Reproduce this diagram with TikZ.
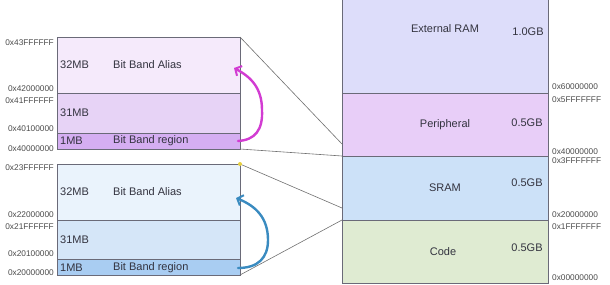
\documentclass[tikz,border=0pt]{standalone}
\usepackage{fontspec}
\setmainfont{Liberation Sans}
\usetikzlibrary{arrows.meta}
\definecolor{bordc}{HTML}{6A6A78}
\definecolor{txtc}{HTML}{33333F}
\definecolor{addrc}{HTML}{4A4A4A}
\definecolor{pA}{HTML}{F5EAFB}
\definecolor{pB}{HTML}{E7D3F6}
\definecolor{pC}{HTML}{D5AEF2}
\definecolor{bA}{HTML}{EAF3FC}
\definecolor{bB}{HTML}{D5E6F8}
\definecolor{bC}{HTML}{A9CDF2}
\definecolor{extc}{HTML}{DDDDFA}
\definecolor{perc}{HTML}{E8CEF8}
\definecolor{sramc}{HTML}{CCE1F8}
\definecolor{codec}{HTML}{DFEBD2}
\definecolor{magc}{HTML}{D23CD2}
\definecolor{bluec}{HTML}{3A8BC0}
\definecolor{yelc}{HTML}{E8D040}
\definecolor{linec}{HTML}{707070}
\tikzset{
  blk/.style={draw=bordc, line width=0.7pt, inner sep=0pt, outer sep=0pt, anchor=north west},
  lbl/.style={font=\fontsize{11}{13}\selectfont, text=txtc, inner sep=0pt},
  addr/.style={font=\fontsize{8.3}{10}\selectfont, text=addrc, inner sep=0pt},
  conn/.style={draw=linec, line width=0.6pt},
  hand/.style={line width=2.4pt, line cap=round, -{Straight Barb[length=5pt,width=11pt,line width=2pt]}}
}
\begin{document}
\begin{tikzpicture}[x=1pt,y=-1pt]
\useasboundingbox (0,0) rectangle (610,284);
% right memory map
\node[blk, fill=extc, minimum width=206pt, minimum height=97pt] (ext) at (342,-4) {};
\node[blk, fill=perc, minimum width=206pt, minimum height=63pt] (per) at (342,93) {};
\node[blk, fill=sramc, minimum width=206pt, minimum height=64pt] (sram) at (342,156) {};
\node[blk, fill=codec, minimum width=206pt, minimum height=63pt] (code) at (342,220) {};
% upper bit band block
\node[blk, fill=pA, minimum width=183pt, minimum height=56pt] (ua) at (57,37) {};
\node[blk, fill=pB, minimum width=183pt, minimum height=40pt] (ub) at (57,93) {};
\node[blk, fill=pC, minimum width=183pt, minimum height=16pt] (uc) at (57,133) {};
% lower bit band block
\node[blk, fill=bA, minimum width=183pt, minimum height=56pt] (la) at (57,164) {};
\node[blk, fill=bB, minimum width=183pt, minimum height=39pt] (lb) at (57,220) {};
\node[blk, fill=bC, minimum width=183pt, minimum height=16pt] (lc) at (57,259) {};
% connector end points
\coordinate (p1) at (342,144);
\coordinate (s1) at (342,208);
\draw[conn] (ua.north east) -- (p1);
\draw[conn] (uc.south east) -- (per.south west);
\draw[conn] (la.north east) -- (s1);
\draw[conn] (lc.south east) -- (sram.south west);
% yellow dot
\fill[yelc] (la.north east) circle (2pt);
% block labels upper
\node[lbl, anchor=west] (t1) at (60,65) {32MB};
\node[lbl, anchor=west] (t2) at (113,65) {Bit Band Alias};
\node[lbl, anchor=west] (t3) at (60,113) {31MB};
\node[lbl, anchor=west] (t4) at (60,140.5) {1MB};
\node[lbl, anchor=west] (t5) at (113,140.5) {Bit Band region};
% block labels lower
\node[lbl, anchor=west] (t6) at (60,192) {32MB};
\node[lbl, anchor=west] (t7) at (113,192) {Bit Band Alias};
\node[lbl, anchor=west] (t8) at (60,240) {31MB};
\node[lbl, anchor=west] (t9) at (60,267.5) {1MB};
\node[lbl, anchor=west] (t10) at (113,267.5) {Bit Band region};
% right labels
\node[lbl] (r1) at (445,29) {External RAM};
\node[lbl] (r2) at (528,32) {1.0GB};
\node[lbl] (r3) at (445,125) {Peripheral};
\node[lbl] (r4) at (527,123) {0.5GB};
\node[lbl] (r5) at (445,188) {SRAM};
\node[lbl] (r6) at (527,183) {0.5GB};
\node[lbl] (r7) at (443,252) {Code};
\node[lbl] (r8) at (527,248) {0.5GB};
% left addresses
\node[addr, anchor=east] (a1) at (54,43) {0x43FFFFFF};
\node[addr, anchor=east] (a2) at (54,89) {0x42000000};
\node[addr, anchor=east] (a3) at (54,101) {0x41FFFFFF};
\node[addr, anchor=east] (a4) at (54,129) {0x40100000};
\node[addr, anchor=east] (a5) at (54,149) {0x40000000};
\node[addr, anchor=east] (a6) at (54,168) {0x23FFFFFF};
\node[addr, anchor=east] (a7) at (54,215) {0x22000000};
\node[addr, anchor=east] (a8) at (54,227) {0x21FFFFFF};
\node[addr, anchor=east] (a9) at (54,254) {0x20100000};
\node[addr, anchor=east] (a10) at (54,273) {0x20000000};
% right addresses
\node[addr, anchor=west] (b1) at (552,87) {0x60000000};
\node[addr, anchor=west] (b2) at (552,100) {0x5FFFFFFF};
\node[addr, anchor=west] (b3) at (552,152) {0x40000000};
\node[addr, anchor=west] (b4) at (552,161) {0x3FFFFFFF};
\node[addr, anchor=west] (b5) at (552,215) {0x20000000};
\node[addr, anchor=west] (b6) at (552,227) {0x1FFFFFFF};
\node[addr, anchor=west] (b7) at (552,278) {0x00000000};
% hand drawn arrows
\coordinate (m0) at (238,141);
\coordinate (m1) at (262,110);
\coordinate (m2) at (234,68);
\draw[hand, draw=magc] (m0) .. controls (255,140) and (263,130) .. (m1) .. controls (262,88) and (251,77) .. (m2);
\coordinate (c0) at (238,268);
\coordinate (c1) at (268,240);
\coordinate (c2) at (236,198);
\draw[hand, draw=bluec] (c0) .. controls (258,268) and (268,258) .. (c1) .. controls (268,218) and (256,206) .. (c2);
\end{tikzpicture}
\end{document}
